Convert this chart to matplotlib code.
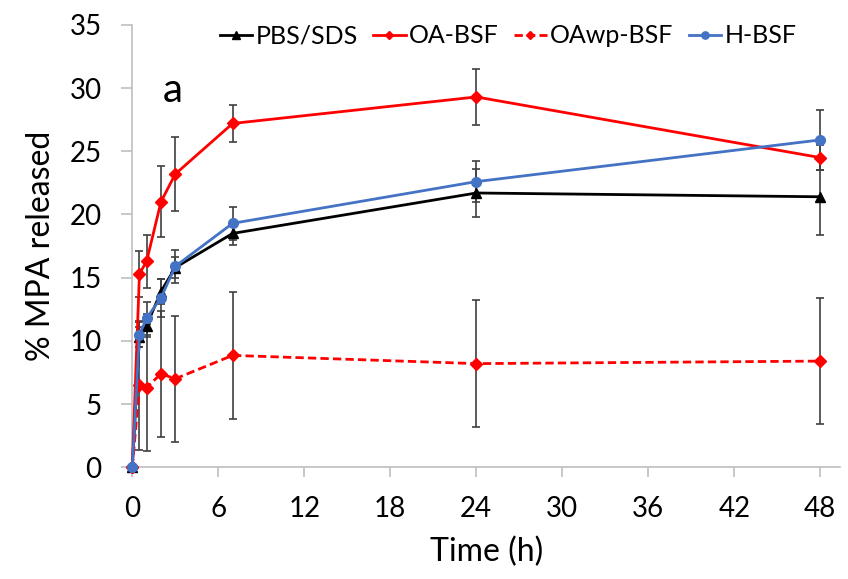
import numpy as np
import matplotlib.pyplot as plt

plt.rcParams['font.family'] = ['Lato', 'DejaVu Sans']

time_h = [0, 0.5, 1, 2, 3, 7, 24, 48]

pbs = [0, 10.3, 11.2, 13.9, 15.8, 18.5, 21.7, 21.4]
pbs_err = [0, 0.8, 0.9, 1.0, 0.8, 0.9, 1.9, 3.0]

oa = [0, 15.3, 16.3, 21.0, 23.2, 27.2, 29.3, 24.5]
oa_err = [0, 1.8, 2.1, 2.8, 2.9, 1.45, 2.2, 1.0]

oawp = [0, 6.5, 6.3, 7.4, 7.0, 8.85, 8.2, 8.4]
oawp_err = [0, 5.1, 5.0, 5.0, 5.0, 5.0, 5.0, 5.0]

hbsf = [0, 10.5, 11.8, 13.4, 15.9, 19.3, 22.6, 25.9]
hbsf_err = [0, 1.0, 1.3, 1.5, 1.3, 1.3, 1.6, 2.4]

fig = plt.figure(figsize=(8.48, 5.79), dpi=100)
ax = fig.add_axes([0.156, 0.193, 0.835, 0.764])

eb = dict(ecolor='#404040', elinewidth=1.2, capsize=3, capthick=1.2, clip_on=False)
series = [
    (pbs, pbs_err, 'PBS/SDS', dict(color='black', marker='^', ms=7, ls='-')),
    (oa, oa_err, 'OA-BSF', dict(color='#ff0000', marker='D', ms=6, ls='-')),
    (oawp, oawp_err, 'OAwp-BSF', dict(color='#ff0000', marker='D', ms=6, ls=(0, (3, 1.5)))),
    (hbsf, hbsf_err, 'H-BSF', dict(color='#4472c4', marker='o', ms=7, ls='-')),
]
handles = []
for vals, errs, name, st in series:
    ax.errorbar(time_h, vals, yerr=errs, fmt='none', zorder=2, **eb)
    h, = ax.plot(time_h, vals, lw=2, label=name, clip_on=False, zorder=3, **st)
    handles.append(h)

ax.set_xlim(0, 49.4)
ax.set_ylim(0, 35)
ax.set_xticks(np.arange(0, 49, 6))
ax.set_yticks(np.arange(0, 36, 5))
ax.tick_params(axis='y', labelsize=20, length=8, width=1.2, color='#bfbfbf', pad=14)
ax.tick_params(axis='x', labelsize=20, length=7, width=1.2, color='#bfbfbf', pad=14)
for s in ['top', 'right']:
    ax.spines[s].set_visible(False)
for s in ['left', 'bottom']:
    ax.spines[s].set_color('#bfbfbf')
    ax.spines[s].set_linewidth(1.2)

ax.set_xlabel('Time (h)', fontsize=23, labelpad=10)
ax.set_ylabel('% MPA released', fontsize=23, labelpad=10)
ax.text(2.1, 28.9, 'a', fontsize=29)

ax.legend(handles=handles, loc='center', bbox_to_anchor=(0.531, 0.975), ncol=4,
          frameon=False, fontsize=18, handlelength=1.3, handletextpad=0.15,
          columnspacing=0.6, markerscale=0.75, borderaxespad=0)

fig.savefig('out.png', dpi=100)
